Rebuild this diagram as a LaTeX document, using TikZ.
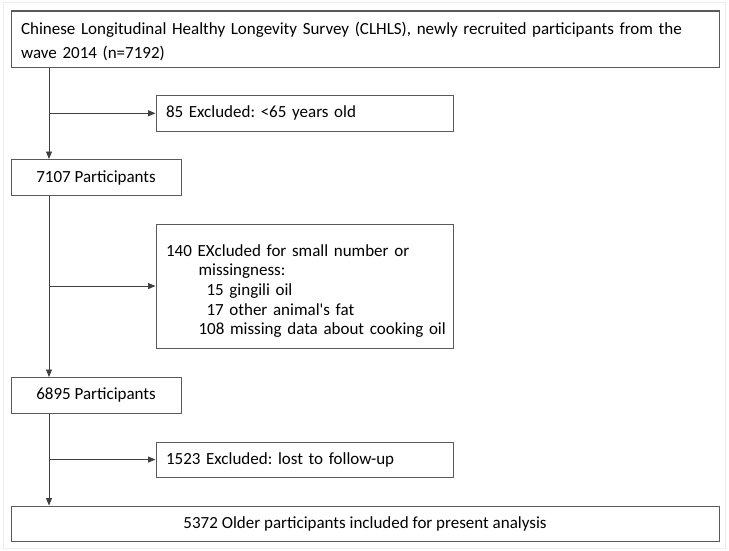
\documentclass[tikz,border=0pt]{standalone}
\usepackage{fontspec}
\setmainfont{Carlito}[Ligatures=TeXOff]
\usetikzlibrary{arrows.meta}
\definecolor{boxgray}{HTML}{5A5A5A}
\definecolor{framegray}{HTML}{EDEDED}
\frenchspacing
\begin{document}
\begin{tikzpicture}[x=1pt,y=-1pt,
  box/.style={draw=boxgray, line width=1.1pt, anchor=north west, inner ysep=0pt, inner xsep=10pt,
    font=\fontsize{17}{19.7}\selectfont},
  leftbox/.style={box, align=left},
  centerbox/.style={box, align=center},
  arr/.style={-{Triangle[length=7.5pt,width=6pt]}, draw=black!75, line width=0.9pt}]
\useasboundingbox (0,0) rectangle (729,551);
\draw[framegray, line width=1pt] (3,3) rectangle (725.5,548);

\node[leftbox, minimum width=708pt, minimum height=56.5pt, text width=688pt,
  font=\fontsize{17}{24}\selectfont] (b1) at (10.5,10.5)
  {\rule{0pt}{16pt}Chinese Longitudinal Healthy Longevity Survey (CLHLS), newly recruited participants from the\\wave 2014 (n=7192)};

\node[leftbox, minimum width=297.5pt, minimum height=35.5pt, text width=277.5pt] (e85) at (155.5,95)
  {85 Excluded: <65 years old};

\node[centerbox, minimum width=170pt, minimum height=36pt] (b2) at (10.5,159)
  {7107 Participants};

\node[leftbox, minimum width=297.5pt, minimum height=124pt, text width=277.5pt] (e140) at (155.5,223.5)
  {\rule{0pt}{22pt}\mbox{140 EXcluded for small number or}\\
   \mbox{\hspace*{32.5pt}missingness:}\\
   \mbox{\hspace*{40.5pt}15 gingili oil}\\
   \mbox{\hspace*{40.5pt}17 other animal's fat}\\
   \mbox{\hspace*{32.5pt}108 missing data about cooking oil}};

\node[centerbox, minimum width=170pt, minimum height=35.5pt] (b3) at (10.5,377)
  {6895 Participants};

\node[leftbox, minimum width=297.5pt, minimum height=35pt, text width=277.5pt] (e1523) at (155.5,441.5)
  {1523 Excluded: lost to follow-up};

\node[centerbox, minimum width=708pt, minimum height=35.5pt] (b4) at (10.5,505.5)
  {5372 Older participants included for present analysis};

\coordinate (spine) at (49,0);

\draw[arr] (b1.south -| spine) -- (b2.north -| spine);
\draw[arr] (b2.south -| spine) -- (b3.north -| spine);
\draw[arr] (b3.south -| spine) -- (b4.north -| spine);
\draw[arr] (spine |- e85.west) -- (e85.west);
\draw[arr] (spine |- e140.west) -- (e140.west);
\draw[arr] (spine |- e1523.west) -- (e1523.west);
\end{tikzpicture}
\end{document}
